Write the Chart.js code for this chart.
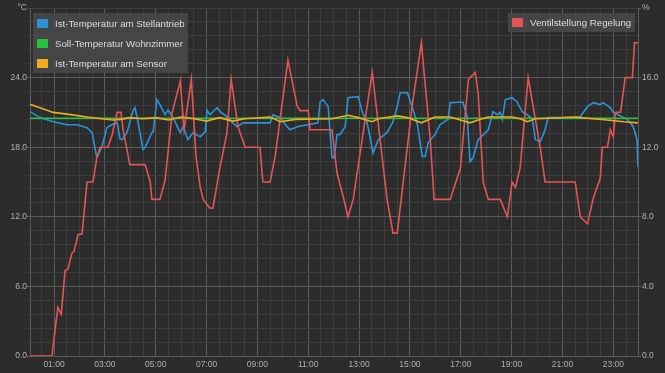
<!DOCTYPE html>
<html>
<head>
<meta charset="utf-8">
<script src="https://cdn.jsdelivr.net/npm/chart.js@4.4.1/dist/chart.umd.min.js"></script>
<style>
  html, body { margin: 0; padding: 0; background: #2c2c2c; }
  #wrap { position: relative; width: 665px; height: 373px; overflow: hidden; }
  canvas { display: block; }
  .legend { position: absolute; background: rgba(72,72,72,0.92); font-family: "Liberation Sans", Arial, sans-serif; font-size: 9.7px; color: #dedede; box-sizing: border-box; }
  .legend .row { display: flex; align-items: center; height: 20px; }
  .legend .sw { width: 11px; height: 9px; margin-left: 4px; margin-right: 7px; flex: none; }
</style>
</head>
<body>
<div id="wrap">
  <canvas id="c" width="665" height="373"></canvas>
  <div id="legL" class="legend" style="left:33px; top:13px; width:155px; height:60px;"></div>
  <div id="legR" class="legend" style="left:508px; top:13px; width:127px; height:19px;"></div>
</div>
<script>
// ---- data ----
const xTickLabels = ['01:00','03:00','05:00','07:00','09:00','11:00','13:00','15:00','17:00','19:00','21:00','23:00'];
const leftTickLabels = ['0.0','6.0','12.0','18.0','24.0'];
const rightTickLabels = ['0.0','4.0','8.0','12.0','16.0'];

const stellantriebTimes = ['00:03','00:27','00:58','01:31','01:54','02:18','02:30','02:41','02:53','03:05','03:19','03:29','03:36','03:41','03:52','04:07','04:11','04:18','04:30','04:35','04:51','04:54','05:03','05:10','05:22','05:29','05:41','05:58','06:05','06:16','06:28','06:45','06:57','07:01','07:08','07:25','07:32','07:48','08:02','08:12','08:26','09:30','09:37','09:54','10:10','10:17','10:34','11:23','11:28','11:35','11:47','11:56','12:01','12:08','12:15','12:27','12:34','12:58','13:07','13:19','13:33','13:45','14:06','14:20','14:30','14:37','14:54','15:05','15:17','15:29','15:36','15:43','15:59','16:11','16:30','16:35','17:05','17:15','17:22','17:29','17:41','17:53','18:05','18:16','18:26','18:33','18:38','18:45','19:01','19:13','19:25','19:37','19:49','19:56','20:08','20:19','20:26','21:25','21:42','21:59','22:13','22:29','22:36','22:53','23:00','23:33','23:47','23:56','23:58'];
const stellantriebValues = [21.07,20.55,20.2,19.94,19.94,19.68,19.25,17.1,18.04,19.7,20.0,20.1,18.7,18.65,19.25,21.2,21.4,20.2,17.8,18.0,19.25,19.34,22.1,21.67,20.8,21.2,20.55,19.25,19.77,18.65,19.25,18.9,19.34,21.2,20.8,21.4,21.07,20.63,20.1,19.77,20.1,20.1,20.8,20.55,19.77,19.5,19.77,20.1,21.9,22.1,21.5,17.1,17.1,19.08,19.08,19.77,22.27,22.36,21.07,20.1,17.5,18.65,19.25,20.2,21.5,22.7,22.7,21.5,20.1,17.2,17.2,18.4,19.08,19.94,20.4,21.84,21.9,20.63,16.75,17.1,18.65,19.08,19.5,21.07,20.8,21.0,20.4,22.1,22.27,21.9,21.07,20.8,20.4,18.65,18.5,19.5,20.55,20.55,20.63,21.5,21.84,21.67,21.84,21.4,21.0,20.4,19.77,18.65,16.3];

const sollTimes = ['00:03','23:58'];
const sollValues = [20.5,20.5];

const sensorTimes = ['00:03','00:27','00:58','01:31','02:18','02:53','03:19','03:36','04:00','04:30','05:00','05:30','06:00','06:30','07:00','07:30','08:02','08:30','09:30','09:54','10:30','11:56','12:34','12:58','13:31','13:45','14:30','14:54','15:27','15:59','16:35','17:22','17:41','18:05','19:01','19:20','19:37','19:56','20:26','21:30','21:59','22:46','23:25','23:58'];
const sensorValues = [21.7,21.4,21.0,20.85,20.6,20.45,20.35,20.4,20.55,20.45,20.55,20.35,20.6,20.45,20.25,20.55,20.25,20.45,20.6,20.2,20.4,20.45,20.75,20.55,20.2,20.45,20.7,20.55,20.1,20.6,20.6,20.1,20.35,20.6,20.6,20.45,20.2,20.45,20.5,20.6,20.5,20.35,20.2,20.1];

const ventilTimes = ['00:03','00:55','01:09','01:17','01:26','01:33','01:42','01:47','01:57','02:06','02:18','02:32','02:41','02:49','03:07','03:17','03:29','03:38','03:43','03:59','04:35','04:47','04:51','05:10','05:22','05:39','05:58','06:07','06:24','06:35','06:45','06:52','07:08','07:15','07:32','07:48','07:58','08:14','08:31','09:06','09:13','09:30','09:42','10:12','10:34','10:41','11:00','11:04','11:56','12:08','12:22','12:34','12:46','13:31','14:06','14:20','14:30','15:05','15:27','15:48','15:57','16:35','16:59','17:18','17:34','17:41','17:53','18:05','18:33','18:50','19:01','19:09','19:20','19:39','19:51','20:08','20:19','21:30','21:42','21:59','22:13','22:29','22:34','22:46','22:53','23:00','23:05','23:17','23:28','23:45','23:50','23:59'];
const ventilValues = [0,0,2.8,2.4,4.9,5.0,5.9,6.0,7.0,7.0,10.0,10.0,11.4,12.0,12.0,12.7,14.0,14.0,13.0,11.0,11.0,10.0,9.0,9.0,10.1,14.0,15.8,13.0,15.9,11.5,9.7,9.0,8.5,8.5,10.9,12.8,15.9,13.2,12.0,12.0,10.0,10.0,11.5,17.0,14.35,14.1,14.1,13.0,13.0,10.5,9.2,8.0,9.0,16.3,9.0,7.06,7.06,14.35,18.0,12.4,9.0,9.0,10.8,15.9,16.3,15.1,10.0,9.0,9.0,8.0,10.0,9.7,10.8,16.0,14.3,11.9,10.0,10.0,8.0,7.6,9.1,10.2,12.0,12.0,13.0,12.6,14.0,14.0,16.0,16.0,18.0,18.0];

const seriesLabels = ['Ist-Temperatur am Stellantrieb','Soll-Temperatur Wohnzimmer','Ist-Temperatur am Sensor','Ventilstellung Regelung'];
const seriesColors = ['#2b93d6','#27c13f','#eeac1c','#e25557'];

// ---- helpers ----
function toHour(t){ const p = t.split(':'); return +p[0] + (+p[1])/60; }
function pts(times, vals){ return times.map((t,i)=>({x: toHour(t), y: vals[i]})); }

const MAJOR = '#5c5c5c', MINOR = '#3d3d3d', TICK = '#b0b0b0';
const FONT = {family: '"Liberation Sans", Arial, sans-serif', size: 8.5};
const near = (v, s) => Math.abs(v/s - Math.round(v/s)) < 1e-6;

function fmtHour(v){ return (v < 10 ? '0' : '') + v + ':00'; }

const datasets = [
  {label: seriesLabels[2], data: pts(sensorTimes, sensorValues), borderColor: seriesColors[2], yAxisID: 'yL', order: 1},
  {label: seriesLabels[3], data: pts(ventilTimes, ventilValues), borderColor: seriesColors[3], yAxisID: 'yR', order: 2},
  {label: seriesLabels[1], data: pts(sollTimes, sollValues), borderColor: seriesColors[1], yAxisID: 'yL', order: 3},
  {label: seriesLabels[0], data: pts(stellantriebTimes, stellantriebValues), borderColor: seriesColors[0], yAxisID: 'yL', order: 4},
].map(d => Object.assign(d, {borderWidth: 1.6, pointRadius: 0, tension: 0, fill: false}));

new Chart(document.getElementById('c'), {
  type: 'line',
  data: {datasets},
  options: {
    responsive: false, animation: false, devicePixelRatio: 1,
    layout: {padding: {top: 8, left: 0, right: 0, bottom: 0}},
    plugins: {legend: {display: false}, tooltip: {enabled: false}},
    scales: {
      x: {
        type: 'linear', position: 'bottom', min: 0.055, max: 23.97,
        afterBuildTicks: s => { const t = []; for (let i = 1; i <= 47; i++) t.push({value: i/2}); s.ticks = t; },
        afterFit: s => { s.height = 17; },
        ticks: {autoSkip: false, maxRotation: 0, minRotation: 0, color: TICK, font: FONT, padding: 4,
          callback: v => { if (!Number.isInteger(v)) return ''; const l = fmtHour(v); return xTickLabels.includes(l) ? l : ''; }},
        grid: {drawTicks: false, lineWidth: 1, color: c => (c.tick && Number.isInteger(c.tick.value) && c.tick.value % 2 === 1) ? MAJOR : MINOR},
        border: {display: true, color: MAJOR}
      },
      yL: {
        type: 'linear', position: 'left', min: 0, max: 30,
        afterBuildTicks: s => { const t = []; for (let i = 0; i <= 25; i++) t.push({value: Math.round(i*12)/10}); s.ticks = t; },
        afterFit: s => { s.width = 30; },
        ticks: {autoSkip: false, color: TICK, font: FONT, padding: 0,
          callback: v => { if (v === 30) return '°C'; if (!near(v, 6)) return ''; const l = v.toFixed(1); return leftTickLabels.includes(l) ? l : ''; }},
        grid: {drawTicks: true, tickLength: 3, color: c => (c.tick && near(c.tick.value, 6) && c.tick.value !== 30) ? MAJOR : MINOR},
        border: {display: true, color: MAJOR}
      },
      yR: {
        type: 'linear', position: 'right', min: 0, max: 20,
        afterBuildTicks: s => { s.ticks = [0,4,8,12,16,20].map(v => ({value: v})); },
        afterFit: s => { s.width = 27; },
        ticks: {autoSkip: false, color: TICK, font: FONT, padding: 1,
          callback: v => { if (v === 20) return '%'; const l = v.toFixed(1); return rightTickLabels.includes(l) ? l : ''; }},
        grid: {drawOnChartArea: false, drawTicks: true, tickLength: 3, color: MAJOR},
        border: {display: true, color: MAJOR}
      }
    }
  }
});

// HTML legends
function addRow(box, idx, h){
  const r = document.createElement('div'); r.className = 'row'; if (h) r.style.height = h + 'px';
  const s = document.createElement('span'); s.className = 'sw'; s.style.background = seriesColors[idx];
  const t = document.createElement('span'); t.textContent = seriesLabels[idx];
  r.appendChild(s); r.appendChild(t); box.appendChild(r);
}
const legL = document.getElementById('legL');
[0,1,2].forEach(i => addRow(legL, i));
addRow(document.getElementById('legR'), 3, 19);
</script>
</body>
</html>
